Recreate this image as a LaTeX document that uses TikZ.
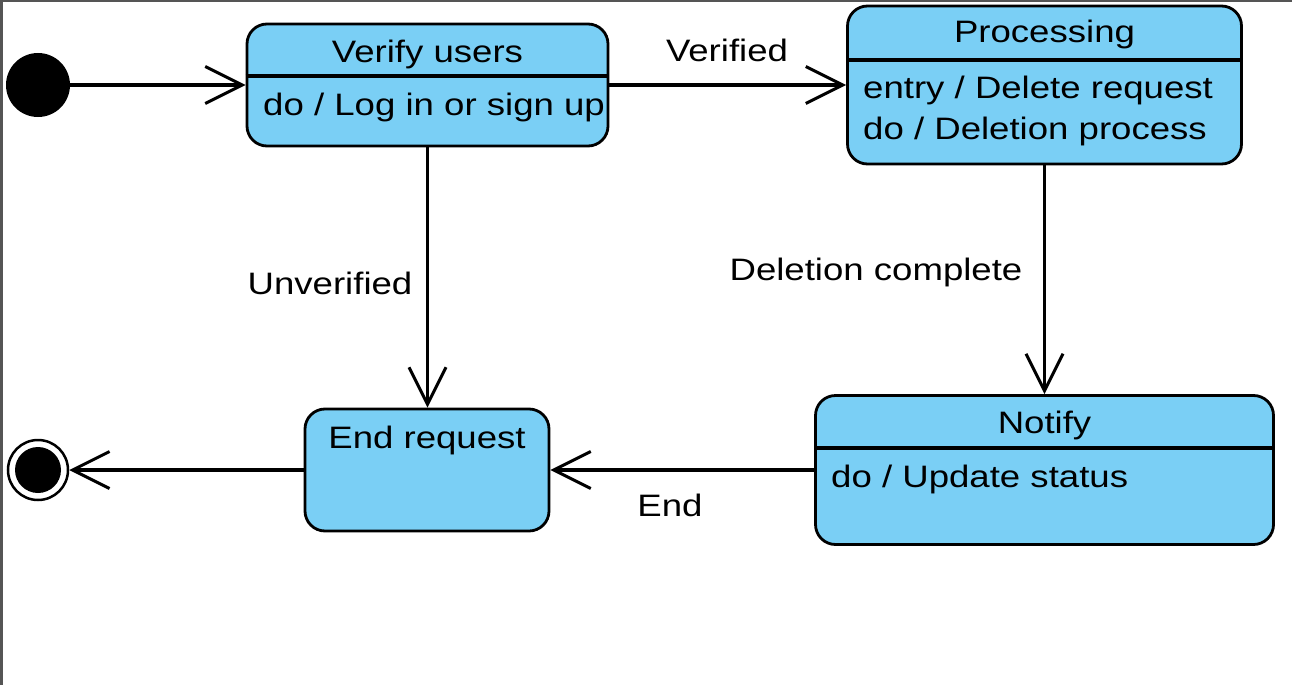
\documentclass[tikz,border=0pt]{standalone}
\usepackage{fontspec}
\setmainfont[FakeStretch=1.18]{Liberation Sans}
\usetikzlibrary{arrows.meta}
\definecolor{statefill}{RGB}{122,207,245}
\definecolor{frame}{RGB}{85,85,85}
\tikzset{
  statebox/.style={draw=black, line width=2.8pt, fill=statefill, rounded corners=20pt, inner sep=0pt, rectangle},
  divider/.style={draw=black, line width=3.4pt},
  trans/.style={draw=black, line width=3.2pt, -{Straight Barb[length=37pt,width=37pt,line width=3pt]}},
  txt/.style={inner sep=0pt, font=\fontsize{31}{37}\selectfont, text=black},
}
\begin{document}
\begin{tikzpicture}[x=1pt,y=-1pt]
\useasboundingbox (0,0) rectangle (1292,685);
\fill[white] (0,0) rectangle (1292,685);
% frame edges
\fill[frame] (0,0) rectangle (1292,2.5);
\fill[frame] (0,0) rectangle (3,685);

% initial and final states
\node[circle, fill=black, minimum size=64pt, inner sep=0pt] (init) at (38,85) {};
\node[circle, draw=black, line width=2.5pt, fill=white, minimum size=60pt, inner sep=0pt] (final) at (38,470) {};
\node[circle, fill=black, minimum size=46pt, inner sep=0pt] (finaldot) at (38,470) {};

% states
\node[statebox, minimum width=361pt, minimum height=122pt] (verify) at (427.5,85) {};
\node[statebox, minimum width=394pt, minimum height=158pt] (proc) at (1044.5,85) {};
\node[statebox, minimum width=458pt, minimum height=149pt] (notify) at (1044.5,470) {};
\node[statebox, minimum width=244pt, minimum height=122pt] (endreq) at (427,470) {};

% dividers
\coordinate (vdl) at (verify.west |- 0,76);
\coordinate (vdr) at (verify.east |- 0,76);
\draw[divider] (vdl) -- (vdr);
\coordinate (pdl) at (proc.west |- 0,60);
\coordinate (pdr) at (proc.east |- 0,60);
\draw[divider] (pdl) -- (pdr);
\coordinate (ndl) at (notify.west |- 0,448);
\coordinate (ndr) at (notify.east |- 0,448);
\draw[divider] (ndl) -- (ndr);

% state texts
\node[txt, anchor=base] (vname) at (427.5,63) {Verify users};
\node[txt, anchor=base west] (vdo) at (263,115) {do / Log in or sign up};
\node[txt, anchor=base] (pname) at (1044.5,43) {Processing};
\node[txt, anchor=base west] (pentry) at (863,98) {entry / Delete request};
\node[txt, anchor=base west] (pdo) at (863,139) {do / Deletion process};
\node[txt, anchor=base] (nname) at (1044.5,433) {Notify};
\node[txt, anchor=base west] (ndo) at (831,487) {do / Update status};
\node[txt, anchor=base] (ename) at (427,448) {End request};

% transitions
\draw[trans] (init) -- (verify.west);
\draw[trans] (verify.east) -- (proc.west);
\draw[trans] (verify.south) -- (verify.south |- endreq.north);
\draw[trans] (proc.south) -- (notify.north);
\draw[trans] (notify.west) -- (endreq.east);
\draw[trans] (endreq.west) -- (final);

% transition labels
\node[txt, anchor=base] (lverified) at (727,62) {Verified};
\node[txt, anchor=base] (lunverified) at (330,294) {Unverified};
\node[txt, anchor=base] (ldelcomplete) at (876,280) {Deletion complete};
\node[txt, anchor=base] (lend) at (670,516) {End};
\end{tikzpicture}
\end{document}
